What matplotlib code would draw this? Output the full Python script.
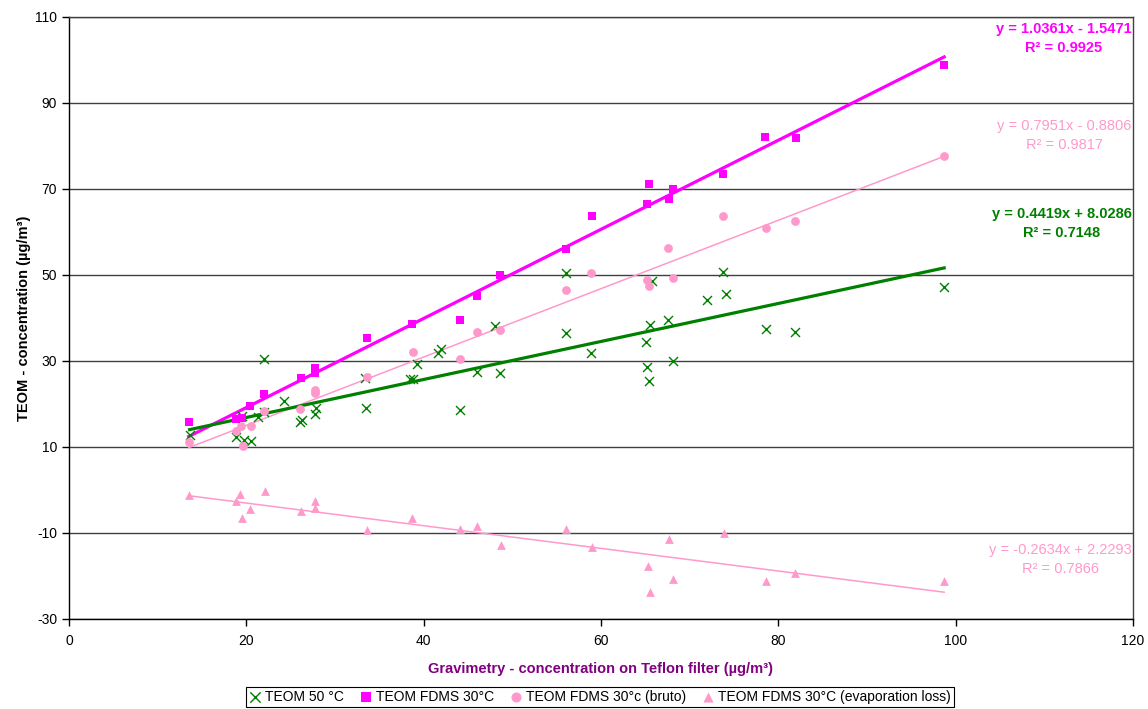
import matplotlib
matplotlib.use("Agg")
import matplotlib.pyplot as plt
import numpy as np

plt.rcParams['font.family'] = ['Liberation Sans', 'DejaVu Sans']
plt.rcParams['axes.unicode_minus'] = False

# Gravimetric reference concentration (x) and TEOM readings (y), µg/m³
teom50_x = [13.6, 18.8, 19.5, 19.7, 20.5, 21.3, 22.0, 22.0, 24.3, 26.1, 26.3,
            27.7, 27.9, 33.5, 33.4, 38.5, 38.8, 39.3, 41.6, 42.0, 44.1, 46.0,
            48.0, 48.65, 56.1, 56.0, 58.9, 65.1, 65.2, 65.4, 65.5, 65.7, 67.6,
            68.1, 71.9, 73.8, 74.1, 78.6, 81.9, 98.7]
teom50_y = [12.9, 12.3, 17.2, 11.6, 11.4, 17.0, 30.4, 18.2, 20.8, 15.9, 16.3,
            17.7, 19.0, 19.0, 26.1, 25.8, 25.8, 29.3, 31.8, 32.9, 18.6, 27.4,
            38.1, 27.3, 50.4, 36.4, 31.9, 34.5, 28.5, 25.3, 38.4, 48.6, 39.5,
            30.0, 44.3, 50.7, 45.5, 37.4, 36.7, 47.3]

fdms_x = [13.5, 18.8, 19.5, 20.4, 22.0, 26.2, 27.7, 27.8, 33.6, 38.7, 44.1,
          46.0, 48.6, 56.0, 59.0, 65.2, 65.4, 67.7, 68.1, 73.8, 78.5, 82.0, 98.7]
fdms_y = [15.9, 16.5, 16.8, 19.6, 22.3, 26.1, 28.4, 27.3, 35.4, 38.6, 39.6,
          45.1, 50.1, 56.0, 63.7, 66.5, 71.2, 67.7, 69.9, 73.6, 82.1, 81.9, 98.8]

bruto_x = [13.5, 18.8, 19.4, 19.6, 20.5, 22.0, 26.1, 27.7, 27.8, 33.6, 38.8,
           44.1, 46.0, 48.65, 56.0, 58.9, 65.2, 65.4, 67.6, 68.1, 73.8, 78.6,
           81.9, 98.7]
bruto_y = [11.1, 13.8, 15.0, 10.2, 15.0, 18.4, 18.8, 22.6, 23.2, 26.2, 32.0,
           30.5, 36.7, 37.2, 46.6, 50.5, 48.8, 47.5, 56.2, 49.4, 63.7, 60.9,
           62.6, 77.7]

evap_x = [13.55, 18.8, 19.3, 19.5, 20.4, 22.1, 26.2, 27.7, 27.8, 33.6, 38.7,
          44.1, 46.0, 48.7, 56.0, 59.0, 65.3, 65.5, 67.7, 68.1, 73.9, 78.6,
          81.9, 98.7]
evap_y = [-1.2, -2.6, -0.9, -6.4, -4.5, -0.2, -4.8, -2.6, -4.3, -9.3, -6.6,
          -9.1, -8.4, -12.9, -9.1, -13.2, -17.7, -23.8, -11.4, -20.7, -10.1,
          -21.2, -19.2, -21.2]

# Linear trend lines: (slope, intercept, R²)
fit_teom50 = (0.4419, 8.0286, 0.7148)
fit_fdms = (1.0361, -1.5471, 0.9925)
fit_bruto = (0.7951, -0.8806, 0.9817)
fit_evap = (-0.2634, 2.2293, 0.7866)

x_ticks = [0, 20, 40, 60, 80, 100, 120]
y_ticks = [-30, -10, 10, 30, 50, 70, 90, 110]

GREEN = '#008000'
MAGENTA = '#FF00FF'
PINK = '#FF99CC'
PURPLE = '#800080'

fig = plt.figure(figsize=(11.48, 7.09), dpi=100)
ax = fig.add_axes([69 / 1148, 1 - 619 / 709, (1133 - 69) / 1148, (619 - 17) / 709])

ax.set_xlim(0, 120)
ax.set_ylim(-30, 110)
ax.set_xticks(x_ticks)
ax.set_yticks(y_ticks)
ax.yaxis.grid(True, color='#404040', linewidth=1.0)
ax.set_axisbelow(True)
for s in ax.spines.values():
    s.set_color('#404040')
    s.set_linewidth(1.0)
ax.spines['left'].set_color('black')
ax.spines['bottom'].set_color('black')
ax.tick_params(axis='both', direction='out', length=5, width=1, labelsize=10,
               colors='black')
ax.tick_params(axis='x', pad=6)


def trend(xs, fit, color, lw):
    a, b, _ = fit
    xx = np.array([min(xs), max(xs)])
    ax.plot(xx, a * xx + b, color=color, linewidth=lw, zorder=2)


trend(fdms_x, fit_fdms, MAGENTA, 2.3)
trend(bruto_x, fit_bruto, PINK, 1.1)
trend(teom50_x, fit_teom50, GREEN, 2.3)
trend(evap_x, fit_evap, PINK, 1.1)

h1 = ax.scatter(teom50_x, teom50_y, marker='x', s=42, color=GREEN,
                linewidths=1.0, zorder=3, label='TEOM 50 °C')
h2 = ax.scatter(fdms_x, fdms_y, marker='s', s=32, color=MAGENTA,
                linewidths=0, zorder=4, label='TEOM FDMS 30°C')
h3 = ax.scatter(bruto_x, bruto_y, marker='o', s=40, color=PINK,
                linewidths=0, zorder=3, label='TEOM FDMS 30°c (bruto)')
h4 = ax.scatter(evap_x, evap_y, marker='^', s=40, color=PINK,
                linewidths=0, zorder=3,
                label='TEOM FDMS 30°C (evaporation loss)')


def eq_label(fit, y, color, bold):
    a, b, r2 = fit
    sign = '-' if b < 0 else '+'
    txt = f"y = {a:.4f}x {sign} {abs(b):.4f}\nR² = {r2:.4f}"
    ax.text(119.85, y, txt, color=color, ha='right', va='center',
            multialignment='center', fontsize=10.5, linespacing=1.45,
            fontweight='bold' if bold else 'normal', zorder=5)


eq_label(fit_fdms, 104.9, MAGENTA, True)
eq_label(fit_bruto, 82.4, PINK, False)
eq_label(fit_teom50, 61.9, GREEN, True)
eq_label(fit_evap, -16.2, PINK, False)

ax.set_xlabel('Gravimetry - concentration on Teflon filter (µg/m³)',
              color=PURPLE, fontweight='bold', fontsize=10.5, labelpad=10)
ax.set_ylabel('TEOM - concentration (µg/m³)', color='black',
              fontweight='bold', fontsize=10.5, labelpad=3)

fig.legend(handles=[h1, h2, h3, h4], loc='center',
           bbox_to_anchor=(600 / 1148, 1 - 697 / 709), ncol=4, fontsize=10,
           frameon=True, fancybox=False, edgecolor='black', framealpha=1,
           handlelength=0.8, handletextpad=0.3, columnspacing=1.2,
           borderpad=0.25, markerscale=1.15, scatterpoints=1)
fig.legends[0].get_frame().set_linewidth(0.8)

fig.savefig('out.png', dpi=100)
